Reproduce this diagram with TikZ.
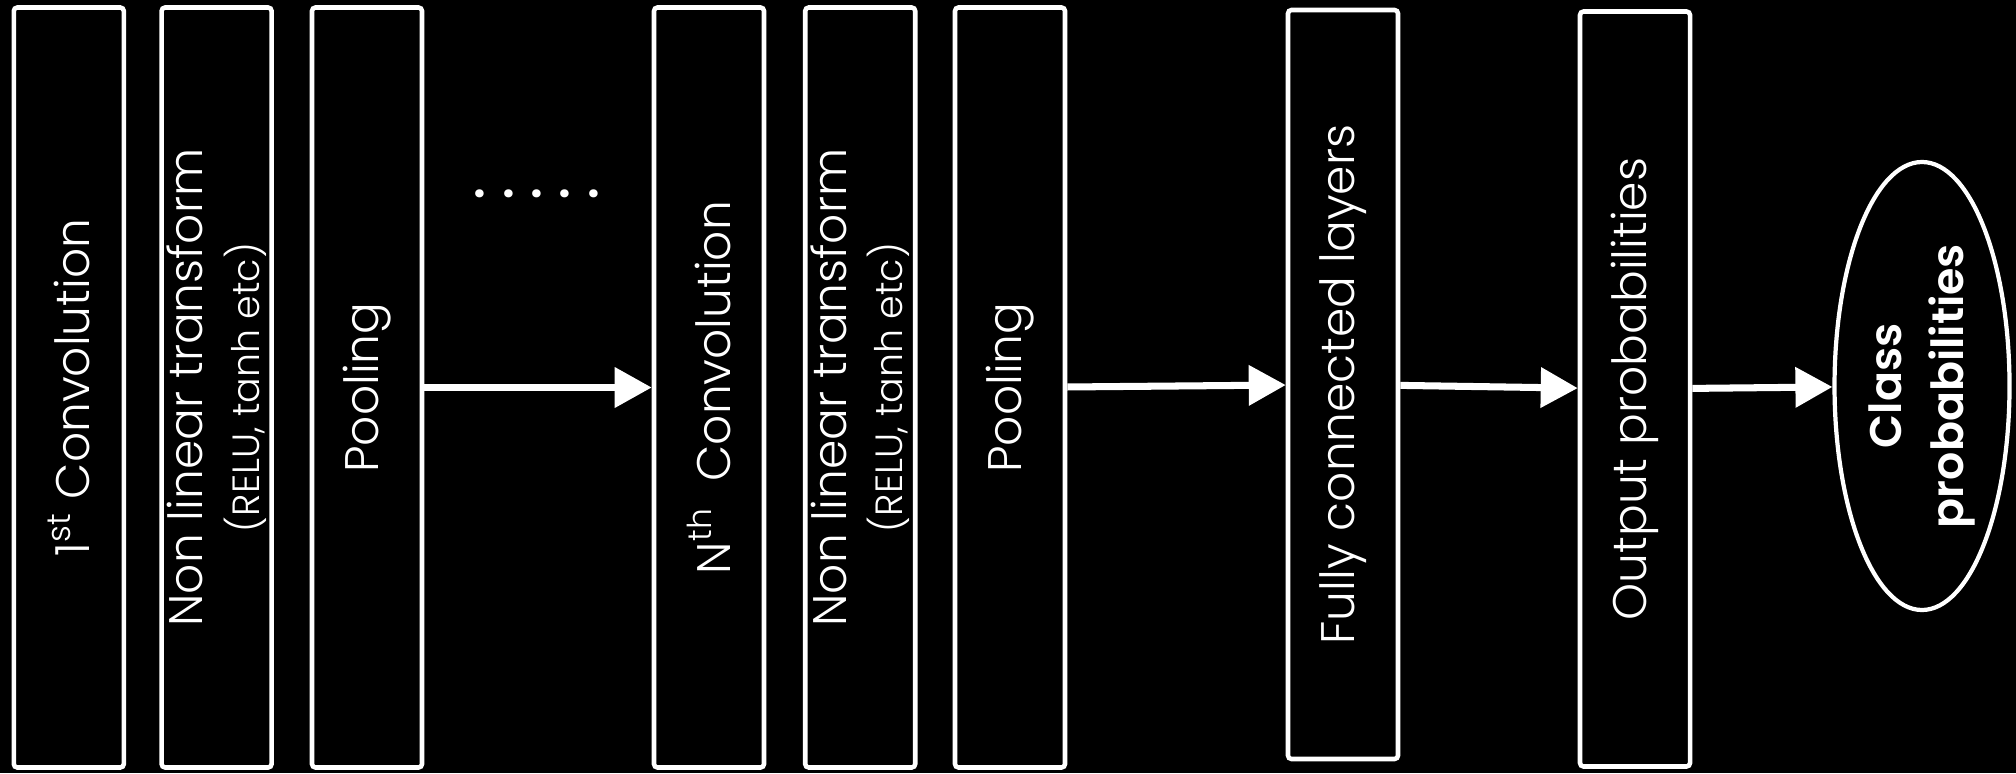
\documentclass[tikz,border=0pt]{standalone}
\usepackage{fontspec}
\setmainfont{Poppins}[UprightFont=* Light, BoldFont=* SemiBold]
\usepackage{tikz}
\usetikzlibrary{arrows.meta,shapes.geometric}

\begin{document}
\begin{tikzpicture}[
    >={Triangle[length=3.7mm, width=3.9mm]},
    layer/.style={draw=white, line width=1.3pt, rounded corners=1pt,
        text=white, rotate=90, align=center, inner sep=0pt,
        minimum width=7.6cm, minimum height=1.1cm,
        font=\fontsize{13.4}{16}\selectfont},
    result/.style={ellipse, draw=white, line width=1.2pt,
        text=white, rotate=90, align=center, inner sep=0pt,
        minimum width=4.48cm, minimum height=1.75cm,
        font=\fontsize{12.6}{17.6}\selectfont\bfseries},
    flow/.style={->, white, line width=2pt},
]

    \def\midy{3.855}     % common centre line of the layers
    \def\note{\fontsize{10.8}{12}\selectfont}

    % black page, fixed to the size of the picture
    \fill[black] (0,0) rectangle (20.16,7.73);
    \useasboundingbox (0,0) rectangle (20.16,7.73);

    % =============================================================
    % First block of layers
    % =============================================================
    \node[layer] (convA) at (0.688,\midy) {1\textsuperscript{st} Convolution};
    \node[layer] (reluA) at (2.166,\midy)
        {Non linear transform\\{\note (RELU, tanh etc)}};
    \node[layer] (poolA) at (3.670,\midy) {Pooling};

    \node[text=white, font=\fontsize{14}{16}\selectfont\bfseries]
        (more) at (5.37,5.79) {. . . . .};

    % =============================================================
    % N-th block of layers
    % =============================================================
    \node[layer] (convN) at (7.090,\midy)
        {N\textsuperscript{th}\ \ Convolution};
    \node[layer] (reluN) at (8.602,\midy)
        {Non linear transform\\{\note (RELU, tanh etc)}};
    \node[layer] (poolN) at (10.100,\midy) {Pooling};

    % =============================================================
    % Classifier
    % =============================================================
    \node[layer, minimum width=7.49cm] (dense) at (13.430,3.885)
        {Fully connected layers};
    \node[layer, minimum width=7.55cm] (output) at (16.350,3.840)
        {Output probabilities};
    \node[result] (classes) at (19.220,3.870) {Class\\probabilities};

    % data flow
    \draw[flow] (poolA) -- (convN);
    \draw[flow] (poolN) -- (dense);
    \draw[flow] (dense) -- (output);
    \draw[flow] (output) -- (classes);

\end{tikzpicture}
\end{document}
